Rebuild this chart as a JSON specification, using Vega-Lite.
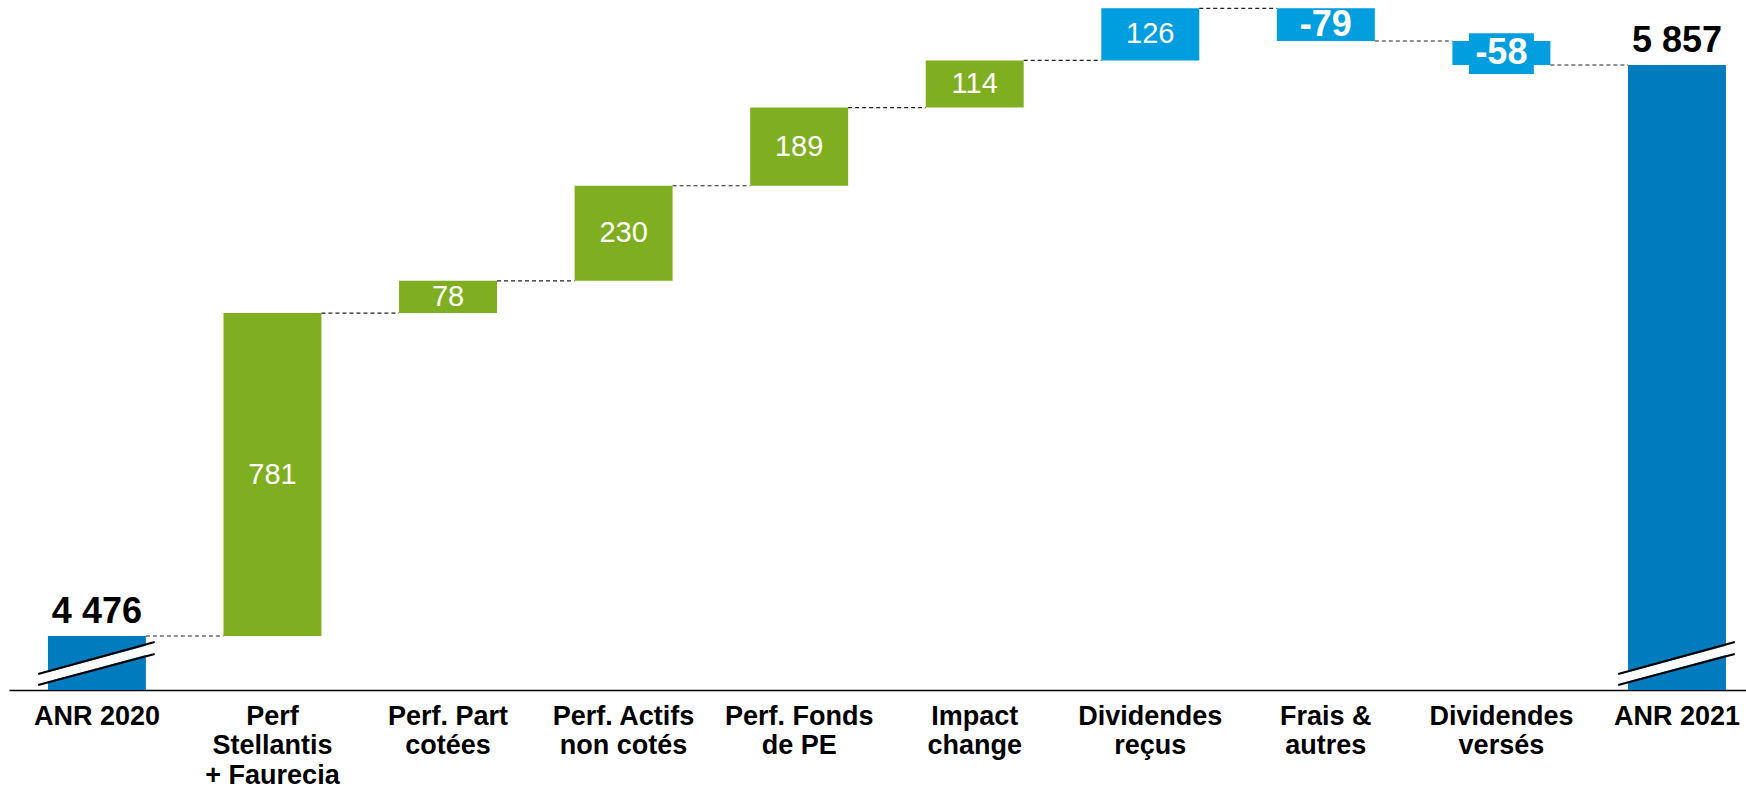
{
  "$schema": "https://vega.github.io/schema/vega-lite/v6.json",
  "width": 1737,
  "height": 690,
  "autosize": "none",
  "padding": {"left": 9, "top": 0, "right": 0, "bottom": 98},
  "background": "white",
  "config": {"view": {"stroke": null}, "font": "Arial"},
  "data": {
    "values": [
      {"order": 1, "cat": "ANR 2020", "start": 0, "end": 4476, "kind": "total", "label": "4 476"},
      {"order": 2, "cat": "Perf\nStellantis\n+ Faurecia", "start": 4476, "end": 5257, "kind": "gain", "label": "781"},
      {"order": 3, "cat": "Perf. Part\ncotées", "start": 5257, "end": 5335, "kind": "gain", "label": "78"},
      {"order": 4, "cat": "Perf. Actifs\nnon cotés", "start": 5335, "end": 5565, "kind": "gain", "label": "230"},
      {"order": 5, "cat": "Perf. Fonds\nde PE", "start": 5565, "end": 5754, "kind": "gain", "label": "189"},
      {"order": 6, "cat": "Impact\nchange", "start": 5754, "end": 5868, "kind": "gain", "label": "114"},
      {"order": 7, "cat": "Dividendes\nreçus", "start": 5868, "end": 5994, "kind": "dividend", "label": "126"},
      {"order": 8, "cat": "Frais &\nautres", "start": 5994, "end": 5915, "kind": "cost", "label": "-79"},
      {"order": 9, "cat": "Dividendes\nversés", "start": 5915, "end": 5857, "kind": "cost", "label": "-58"},
      {"order": 10, "cat": "ANR 2021", "start": 0, "end": 5857, "kind": "total", "label": "5 857"}
    ]
  },
  "layer": [
    {
      "mark": {"type": "bar", "clip": true},
      "encoding": {
        "x": {
          "field": "cat", "type": "nominal", "sort": null,
          "scale": {"paddingInner": 0.442, "paddingOuter": 0.168, "align": 0.66},
          "axis": {
            "title": null, "labelAngle": 0, "ticks": false, "domain": true,
            "domainColor": "#000000", "domainWidth": 1.5,
            "labelFont": "Arial", "labelFontWeight": "bold", "labelFontSize": 27,
            "labelColor": "#000000", "labelPadding": 13, "labelLineHeight": 29.5,
            "labelLimit": 400, "labelExpr": "split(datum.label, '\\n')"
          }
        },
        "y": {"field": "end", "type": "quantitative", "scale": {"domain": [4345.4, 6014.2], "zero": false, "nice": false}, "axis": null},
        "y2": {"field": "start"},
        "color": {
          "field": "kind", "type": "nominal", "legend": null,
          "scale": {"domain": ["total", "gain", "dividend", "cost"], "range": ["#007BBD", "#7FAF21", "#009EDE", "#009EDE"]}
        }
      }
    },
    {
      "transform": [
        {"window": [{"op": "lead", "field": "cat", "as": "next"}], "sort": [{"field": "order", "order": "ascending"}]},
        {"filter": "datum.next != null"}
      ],
      "mark": {"type": "rule", "color": "#222222", "strokeWidth": 1.2, "strokeDash": [4, 3]},
      "encoding": {
        "x": {"field": "cat", "type": "nominal", "sort": null, "bandPosition": 1},
        "x2": {"field": "next", "bandPosition": 0},
        "y": {"field": "end", "type": "quantitative"}
      }
    },
    {
      "transform": [{"filter": "datum.order == 9"}],
      "mark": {"type": "bar", "color": "#009EDE", "width": {"band": 0.663}},
      "encoding": {
        "x": {"field": "cat", "type": "nominal", "sort": null},
        "y": {"datum": 5934},
        "y2": {"datum": 5835}
      }
    },
    {
      "transform": [
        {"filter": "datum.kind == 'gain' || datum.kind == 'dividend'"},
        {"fold": ["start", "end"], "as": ["which", "v"]},
        {"aggregate": [{"op": "mean", "field": "v", "as": "mid"}], "groupby": ["cat", "kind", "label"]}
      ],
      "mark": {"type": "text", "baseline": "middle", "align": "center", "fontSize": 29, "fontWeight": "normal", "color": "#FFFFFF"},
      "encoding": {
        "x": {"field": "cat", "type": "nominal", "sort": null},
        "y": {"field": "mid", "type": "quantitative"},
        "text": {"field": "label"}
      }
    },
    {
      "transform": [
        {"filter": "datum.kind == 'cost'"},
        {"fold": ["start", "end"], "as": ["which", "v"]},
        {"aggregate": [{"op": "mean", "field": "v", "as": "mid"}], "groupby": ["cat", "kind", "label"]}
      ],
      "mark": {"type": "text", "baseline": "middle", "align": "center", "fontSize": 36, "fontWeight": "bold", "color": "#FFFFFF"},
      "encoding": {
        "x": {"field": "cat", "type": "nominal", "sort": null},
        "y": {"field": "mid", "type": "quantitative"},
        "text": {"field": "label"}
      }
    },
    {
      "transform": [{"filter": "datum.kind == 'total'"}],
      "mark": {"type": "text", "baseline": "alphabetic", "align": "center", "dy": -13, "fontSize": 36, "fontWeight": "bold", "color": "#000000"},
      "encoding": {
        "x": {"field": "cat", "type": "nominal", "sort": null},
        "y": {"field": "end", "type": "quantitative"},
        "text": {"field": "label"}
      }
    },
    {
      "transform": [{"filter": "datum.kind == 'total'"}],
      "mark": {"type": "rule", "color": "#FFFFFF", "strokeWidth": 9},
      "encoding": {
        "x": {"field": "cat", "type": "nominal", "sort": null, "bandPosition": -0.1},
        "x2": {"field": "cat", "bandPosition": 1.09},
        "y": {"datum": 4370.8},
        "y2": {"datum": 4447}
      }
    },
    {
      "transform": [{"filter": "datum.kind == 'total'"}],
      "mark": {"type": "rule", "color": "#000000", "strokeWidth": 2.2},
      "encoding": {
        "x": {"field": "cat", "type": "nominal", "sort": null, "bandPosition": -0.1},
        "x2": {"field": "cat", "bandPosition": 1.09},
        "y": {"datum": 4384.1},
        "y2": {"datum": 4461.5}
      }
    },
    {
      "transform": [{"filter": "datum.kind == 'total'"}],
      "mark": {"type": "rule", "color": "#000000", "strokeWidth": 2.2},
      "encoding": {
        "x": {"field": "cat", "type": "nominal", "sort": null, "bandPosition": -0.1},
        "x2": {"field": "cat", "bandPosition": 1.09},
        "y": {"datum": 4357.5},
        "y2": {"datum": 4432.5}
      }
    }
  ]
}
